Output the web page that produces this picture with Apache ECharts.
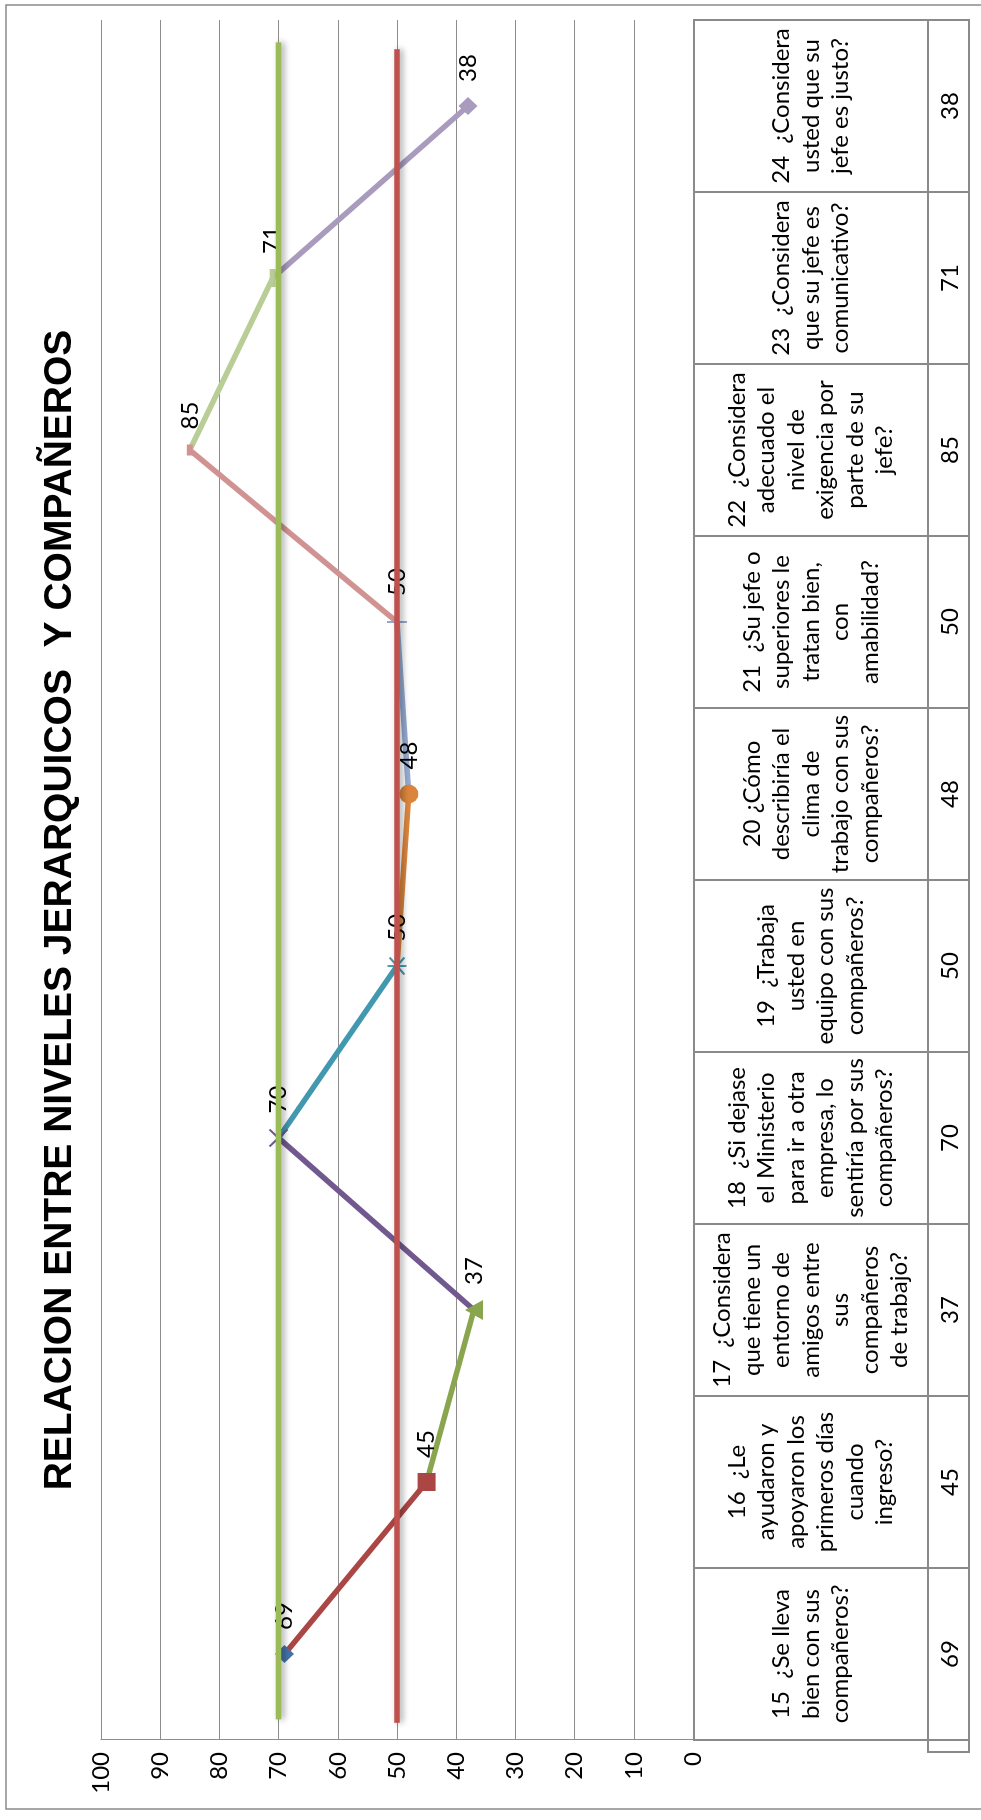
<!DOCTYPE html>
<html lang="es">
<head>
<meta charset="utf-8">
<title>Relación entre niveles jerárquicos y compañeros</title>
<script src="https://cdn.jsdelivr.net/npm/echarts@6.0.0/dist/echarts.min.js"></script>
<style>
  html, body { margin: 0; padding: 0; background: #ffffff; overflow: hidden; }
  body { width: 981px; height: 1820px; position: relative; }
  /* the chart is laid out landscape and turned a quarter turn to stand upright */
  #chart {
    position: absolute; left: 0; top: 0;
    width: 1820px; height: 981px;
    transform-origin: 0 0;
    transform: translate(0, 1820px) rotate(-90deg);
  }
</style>
</head>
<body>
<div id="chart"></div>
<script>
// ---- data ----
const chartTitle = 'RELACION ENTRE NIVELES JERARQUICOS  Y COMPAÑEROS';

const categories = [
  '15  ¿Se lleva\nbien con sus\ncompañeros?',
  '16  ¿Le\nayudaron y\napoyaron los\nprimeros días\ncuando\ningreso?',
  '17  ¿Considera\nque tiene un\nentorno de\namigos entre\nsus\ncompañeros\nde trabajo?',
  '18  ¿Si dejase\nel Ministerio\npara ir a otra\nempresa, lo\nsentiría por sus\ncompañeros?',
  '19  ¿Trabaja\nusted en\nequipo con sus\ncompañeros?',
  '20 ¿Cómo\ndescribiría el\nclima de\ntrabajo con sus\ncompañeros?',
  '21  ¿Su jefe o\nsuperiores le\ntratan bien,\ncon\namabilidad?',
  '22  ¿Considera\nadecuado el\nnivel de\nexigencia por\nparte de su\njefe?',
  '23  ¿Considera\nque su jefe es\ncomunicativo?',
  '24  ¿Considera\nusted que su\njefe es justo?'
];

const values = [69, 45, 37, 70, 50, 48, 50, 85, 71, 38];

const valueAxisMin = 0;
const valueAxisMax = 100;
const valueAxisStep = 10;

// reference levels drawn across the plot
const upperLevel = 70;
const lowerLevel = 50;

// ---- styles ----
const FONT = 'Lato, "Open Sans", sans-serif';
const BORDER = '#8a8a8a';
const GRID_LINE = '#8c8c8c';

// one marker look per question, each segment takes the colour of the point it reaches
const markerStyles = [
  { symbol: 'diamond', size: [18, 19], color: '#4572A7', stroke: false },
  { symbol: 'rect', size: [18, 18], color: '#AA4643', stroke: false },
  { symbol: 'triangle', size: [20, 18], color: '#89A54E', stroke: false },
  { symbol: 'path://M0,0L10,10M10,0L0,10', size: [17, 18], color: '#71588F', stroke: true },
  { symbol: 'path://M0,0L10,10M10,0L0,10M5,-1.5L5,11.5', size: [17, 19], color: '#4198AF', stroke: true },
  { symbol: 'circle', size: 19, color: '#DB843D', stroke: false },
  { symbol: 'path://M5,0L5,10M0,5L10,5', size: [20, 20], color: '#93A9CF', stroke: true },
  { symbol: 'rect', size: [11, 6], color: '#D19392', stroke: false },
  { symbol: 'rect', size: [18, 6], color: '#B9CD96', stroke: false },
  { symbol: 'diamond', size: [18, 19], color: '#A99BBD', stroke: false }
];

// layout of the landscape frame
const PLOT = { left: 80, right: 20, top: 101, height: 592 };
const TABLE_TOP = 694;
const TABLE_HEADER_H = 234;
const TABLE_VALUE_H = 41;
const KEY_CELL_W = 12;

// ---- series ----
const segmentSeries = [];
for (let k = 1; k < values.length; k++) {
  segmentSeries.push({
    type: 'line',
    xAxisIndex: 0,
    yAxisIndex: 0,
    data: values.map((v, j) => (j === k - 1 || j === k) ? v : '-'),
    symbol: 'none',
    silent: true,
    z: 2,
    lineStyle: { color: markerStyles[k].color, width: 5.5, cap: 'butt' }
  });
}

const markerSeries = {
  type: 'line',
  xAxisIndex: 0,
  yAxisIndex: 0,
  z: 3,
  silent: true,
  showAllSymbol: true,
  lineStyle: { width: 0, opacity: 0 },
  data: values.map((v, i) => {
    const m = markerStyles[i];
    return {
      value: v,
      symbol: m.symbol,
      symbolSize: m.size,
      itemStyle: m.stroke
        ? { color: 'rgba(0,0,0,0)', borderColor: m.color, borderWidth: 2 }
        : { color: m.color, borderWidth: 0 }
    };
  }),
  label: {
    show: true,
    position: 'right',
    distance: 15,
    formatter: '{c}',
    color: '#000',
    fontFamily: FONT,
    fontSize: 24
  }
};

function levelSeries(level, from, to, color) {
  return {
    type: 'line',
    xAxisIndex: 1,
    yAxisIndex: 0,
    data: [[from, level], [to, level]],
    symbol: 'none',
    silent: true,
    z: 5,
    lineStyle: {
      color: color, width: 5.5, cap: 'butt',
      shadowColor: 'rgba(0,0,0,0.35)', shadowBlur: 6, shadowOffsetY: 3
    }
  };
}

// data table under the plot: question text row and value row
function renderTableCell(params, api) {
  const i = api.value(0);
  const v = api.value(1);
  const cx = api.coord([i, 0])[0];
  const w = api.size([1, 0])[0];
  const cs = params.coordSys;
  const x0 = cx - w / 2;
  const headTop = cs.y;
  const valTop = cs.y + TABLE_HEADER_H;
  const cellStyle = { fill: '#ffffff', stroke: BORDER, lineWidth: 2 };
  const children = [
    { type: 'rect', shape: { x: x0, y: headTop, width: w, height: TABLE_HEADER_H }, style: cellStyle },
    { type: 'rect', shape: { x: x0, y: valTop, width: w, height: TABLE_VALUE_H }, style: cellStyle },
    {
      type: 'text', z2: 10,
      style: {
        text: categories[i], x: cx, y: headTop + TABLE_HEADER_H / 2,
        align: 'center', verticalAlign: 'middle',
        textAlign: 'center', textVerticalAlign: 'middle',
        fontFamily: FONT, fontSize: 24, lineHeight: 29.5, fill: '#000'
      }
    },
    {
      type: 'text', z2: 10,
      style: {
        text: String(v), x: cx, y: valTop + TABLE_VALUE_H / 2 + 2,
        align: 'center', verticalAlign: 'middle',
        textAlign: 'center', textVerticalAlign: 'middle',
        fontFamily: FONT, fontSize: 24, fill: '#000'
      }
    }
  ];
  if (i === 0) {
    children.push({
      type: 'rect',
      shape: { x: x0 - KEY_CELL_W, y: valTop, width: KEY_CELL_W, height: TABLE_VALUE_H },
      style: cellStyle
    });
  }
  return { type: 'group', children: children };
}

const tableSeries = {
  type: 'custom',
  xAxisIndex: 2,
  yAxisIndex: 1,
  silent: true,
  z: 1,
  renderItem: renderTableCell,
  encode: { x: 0, y: 1 },
  data: values.map((v, i) => [i, v])
};

const option = {
  backgroundColor: '#ffffff',
  animation: false,
  title: {
    text: chartTitle,
    left: 'center',
    top: 33,
    textStyle: {
      fontFamily: '"Liberation Sans", Arial, sans-serif',
      fontWeight: 'bold',
      fontSize: 39,
      lineHeight: 44,
      color: '#000'
    }
  },
  graphic: [
    {
      type: 'rect', silent: true, z: 0,
      shape: { x: 11, y: 6, width: 1804, height: 1000 },
      style: { fill: 'none', stroke: '#8a8a8a', lineWidth: 1.5 }
    }
  ],
  grid: [
    { left: PLOT.left, right: PLOT.right, top: PLOT.top, height: PLOT.height },
    { left: PLOT.left, right: PLOT.right, top: TABLE_TOP, height: TABLE_HEADER_H + TABLE_VALUE_H }
  ],
  xAxis: [
    {
      type: 'category', gridIndex: 0, data: categories, boundaryGap: true,
      axisLine: { show: true, lineStyle: { color: GRID_LINE, width: 1 } },
      axisTick: { show: false }, axisLabel: { show: false }, splitLine: { show: false }
    },
    { type: 'value', gridIndex: 0, min: 0, max: categories.length, show: false },
    { type: 'category', gridIndex: 1, data: categories, boundaryGap: true, show: false }
  ],
  yAxis: [
    {
      type: 'value', gridIndex: 0,
      min: valueAxisMin, max: valueAxisMax, interval: valueAxisStep,
      axisLine: { show: true, lineStyle: { color: GRID_LINE, width: 1 } },
      axisTick: { show: false },
      splitLine: { show: true, lineStyle: { color: GRID_LINE, width: 1 } },
      axisLabel: { margin: 12, color: '#000', fontFamily: FONT, fontSize: 24 }
    },
    { type: 'value', gridIndex: 1, min: 0, max: 100, show: false }
  ],
  series: [
    tableSeries,
    ...segmentSeries,
    markerSeries,
    levelSeries(upperLevel, 0.12, 9.87, '#9BBB59'),
    levelSeries(lowerLevel, 0.10, 9.83, '#C0504D')
  ]
};

const chart = echarts.init(document.getElementById('chart'), null, { renderer: 'canvas', width: 1820, height: 981 });
chart.setOption(option);
</script>
</body>
</html>
